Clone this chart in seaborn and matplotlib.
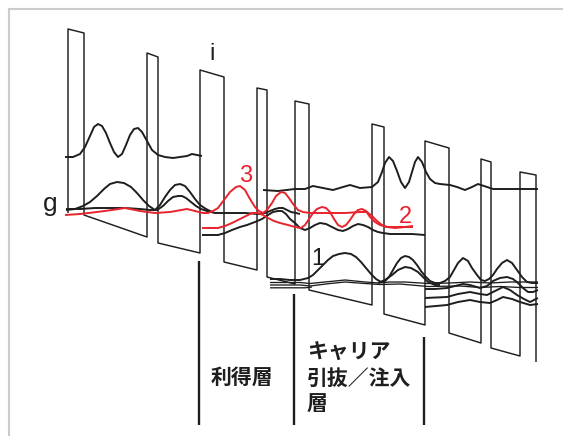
import matplotlib
matplotlib.use("Agg")
import matplotlib.pyplot as plt
import pandas as pd
import seaborn as sns
from matplotlib.lines import Line2D

# ---------------------------------------------------------------------------
# Conduction-band profile under bias (drawing units: x to the right, y downward)
# ---------------------------------------------------------------------------
barrier_left = [68, 147, 200, 257, 295, 372, 425, 481, 520]
barrier_right = [84, 158, 224, 267, 309, 384, 449, 491, 536]
barrier_top_left = [29, 53, 70, 88, 101, 124, 141, 159, 172]
barrier_top_right = [33, 57, 77, 90, 104, 127, 148, 162, 175]
barrier_bottom_left = [213, 237, 253, 270, 284, 305, 325, 343, 356]
barrier_bottom_right = [215, 243, 262, 277, 290, 314, 333, 348, 362]

# Region boundaries below the band diagram
divider_x = [199, 294, 424]
divider_top = [261, 294, 337]
divider_bottom = [425, 425, 425]

# ---------------------------------------------------------------------------
# Subband wavefunctions |psi|^2 drawn on their energy levels
# ---------------------------------------------------------------------------
# upper level i (first period)
i1_x = [65, 73, 80, 85, 90, 94, 98, 102, 106, 110, 114, 118, 122, 126, 130, 134,
        138, 142, 147, 152, 158, 165, 173, 180, 187, 192, 197, 202]
i1_y = [157, 157, 154, 147, 136, 127, 124, 126, 133, 143, 152, 157, 154, 145, 135, 129,
        128, 132, 141, 150, 155, 157, 158, 157, 156, 154, 155, 156]

# upper level i (second period)
i2_x = [263, 278, 295, 305, 313, 323, 333, 343, 350, 360, 372, 378, 382, 385, 389, 393,
        397, 401, 405, 409, 412, 415, 418, 422, 426, 430, 435, 440, 450, 457, 465, 472,
        478, 487, 493, 513, 538]
i2_y = [190, 191, 189, 189, 186, 188, 190, 187, 185, 188, 187, 182, 172, 163, 157, 161,
        171, 182, 188, 182, 172, 162, 157, 162, 172, 179, 183, 184, 185, 187, 190, 187,
        184, 187, 189, 189, 189]

# double-hump state of the gain region
a_x = [66, 75, 83, 90, 97, 104, 110, 117, 124, 131, 137, 143, 149, 155, 160, 165, 170,
       175, 180, 185, 190, 195, 200, 206, 212]
a_y = [210, 209, 206, 202, 196, 189, 184, 182, 183, 187, 193, 200, 206, 210, 205, 197, 190,
       185, 184, 186, 192, 199, 205, 209, 212]

# injector state g (black)
b_x = [66, 80, 95, 110, 125, 140, 150, 157, 163, 168, 173, 178, 182, 186, 191, 196, 201,
       207, 215, 230, 245, 258, 265, 270, 275, 279, 283, 287, 291, 296, 300]
b_y = [209, 209, 208, 208, 208, 209, 210, 210, 206, 201, 197, 196, 196, 198, 202, 206, 209,
       211, 213, 213, 213, 214, 213, 211, 209, 208, 208, 210, 212, 213, 214]

# lower black state of the extraction region
k3_x = [202, 210, 218, 225, 232, 240, 247, 255, 262, 268, 273, 278, 282, 286, 290, 295,
        300, 305, 310, 315, 320, 326, 332, 338, 343, 348, 353, 358, 363, 368, 373, 378,
        383, 390, 400, 412, 425]
k3_y = [235, 235, 235, 233, 230, 227, 225, 222, 219, 215, 212, 211, 211, 214, 219, 223,
        228, 230, 228, 225, 223, 224, 227, 230, 231, 229, 226, 224, 225, 227, 230, 232,
        233, 234, 234, 234, 235]

# level 1
k4_x = [270, 280, 290, 300, 308, 313, 318, 323, 328, 333, 339, 345, 351, 356, 361, 366,
        371, 376, 381, 385, 389, 393, 397, 401, 405, 409, 413, 417, 421, 425, 430, 435,
        440, 445, 450, 454, 458, 463, 468, 472, 477, 481, 485, 489, 493, 497, 502, 507,
        512, 517, 522, 527, 532, 538]
k4_y = [279, 279, 280, 280, 278, 275, 270, 265, 260, 256, 254, 253, 254, 257, 262, 268,
        274, 279, 282, 281, 277, 270, 263, 258, 256, 257, 260, 265, 271, 276, 281, 283,
        283, 281, 277, 270, 263, 258, 261, 268, 275, 280, 281, 279, 275, 269, 263, 260,
        263, 270, 277, 282, 283, 283]

k5_x = [378, 385, 392, 398, 405, 411, 418, 423, 428, 435, 440]
k5_y = [283, 280, 275, 270, 267, 268, 272, 277, 282, 285, 285]

# injector levels of the second period
f1_x = [270, 300, 310, 325, 345, 365, 378, 390, 405, 428, 450, 470, 490, 510, 538]
f1_y = [282.5, 282.5, 283.5, 282, 280, 282, 283, 282, 282, 283.5, 283, 282, 283, 282, 282]
f2_x = [270, 300, 310, 330, 345, 365, 380, 400, 428, 460, 480, 500, 520, 538]
f2_y = [285, 285, 286, 283.5, 282, 283.5, 284.5, 284, 286.5, 286, 287.5, 286.5, 287.5, 287.5]
f3_x = [270, 290, 305, 312]
f3_y = [287.8, 287.8, 287.8, 287]

l1_x = [425, 435, 447, 455, 463, 470, 480, 487, 493, 500, 507, 513, 518, 523, 528, 533, 538]
l1_y = [289, 289, 288, 286, 284, 285, 288, 286, 281, 278, 277, 279, 283, 288, 292, 292, 290]
l2_x = [425, 447, 458, 470, 480, 487, 495, 503, 510, 517, 524, 530, 538]
l2_y = [298, 297, 294, 292, 294, 295, 291, 287, 290, 295, 299, 302, 298]
l3_x = [425, 447, 458, 470, 480, 490, 497, 503, 512, 520, 530, 538]
l3_y = [307, 305, 302, 300, 302, 303, 300, 297, 299, 302, 305, 304]

# red states 3 and 2
r3_x = [65, 80, 97, 112, 125, 140, 155, 170, 187, 203, 208, 213, 218, 224, 230, 236,
        240, 245, 250, 255, 259, 263, 267, 272, 276, 281, 285, 289, 293, 298, 303, 310,
        320, 330, 345, 360, 367, 372, 377, 382, 387, 395, 405, 413]
r3_y = [215, 214, 212, 210, 208, 211, 213, 212, 209, 213, 213, 211, 208, 200, 192, 187,
        186, 190, 199, 207, 211, 213, 210, 203, 196, 192, 193, 198, 204, 210, 212, 213,
        213, 213, 213, 212, 212, 216, 221, 225, 227, 227, 227, 226]
r2_x = [202, 210, 218, 225, 232, 240, 246, 252, 258, 263, 268, 274, 280, 288, 295, 301,
        305, 309, 313, 317, 322, 326, 330, 334, 338, 342, 346, 350, 354, 358, 362, 366,
        370, 375, 380, 387, 395, 405, 413]
r2_y = [228, 228, 228, 226, 223, 219, 216, 213, 213, 215, 218, 221, 223, 225, 227, 228,
        225, 219, 213, 209, 207, 208, 212, 219, 225, 227, 225, 220, 214, 210, 209, 211,
        217, 222, 225, 227, 228, 227, 227]

black_states = {
    "i1": (i1_x, i1_y), "i2": (i2_x, i2_y), "a": (a_x, a_y), "b": (b_x, b_y),
    "k3": (k3_x, k3_y), "k4": (k4_x, k4_y), "k5": (k5_x, k5_y),
    "l1": (l1_x, l1_y), "l2": (l2_x, l2_y), "l3": (l3_x, l3_y),
}
thin_states = {"f1": (f1_x, f1_y), "f2": (f2_x, f2_y), "f3": (f3_x, f3_y)}
red_states = {"r3": (r3_x, r3_y), "r2": (r2_x, r2_y)}

# Labels
level_labels = ["i", "g", "3", "2", "1"]
level_label_x = [212, 50, 246, 405, 318]
level_label_y = [60, 211, 182, 223, 265]
level_label_color = ["#1e1e1e", "#1e1e1e", "#e8232b", "#e8232b", "#1e1e1e"]
level_label_size = [17, 19, 17, 17, 17]

region_lines = ["利得層", "キャリア", "引抜／注入", "層"]
region_x = [211, 307, 307, 307]
region_y = [377, 352, 378, 403]


def long_form(states):
    rows = []
    for name, (xs, ys) in states.items():
        for order, (x, y) in enumerate(zip(xs, ys)):
            rows.append({"state": name, "order": order, "x": x, "y": y})
    return pd.DataFrame(rows)


# Band-edge polyline built from the barrier table
band_x, band_y = [], []
for k in range(len(barrier_left)):
    band_x += [barrier_left[k], barrier_left[k], barrier_right[k], barrier_right[k]]
    band_y += [barrier_bottom_left[k], barrier_top_left[k],
               barrier_top_right[k], barrier_bottom_right[k]]
band = pd.DataFrame({"x": band_x, "y": band_y, "state": "band"})

dividers = pd.DataFrame({
    "x": [v for x in divider_x for v in (x, x)],
    "y": [v for t, b in zip(divider_top, divider_bottom) for v in (t, b)],
    "state": [f"d{k}" for k in range(len(divider_x)) for _ in (0, 1)],
})

sns.set_theme(style="white")
plt.rcParams["font.family"] = ["Liberation Sans", "DejaVu Sans"]

fig = plt.figure(figsize=(5.63, 4.36), dpi=100)
ax = fig.add_axes([0, 0, 1, 1])
ax.set_xlim(0, 563)
ax.set_ylim(436, 0)
ax.axis("off")

line_kw = dict(estimator=None, sort=False, legend=False, ax=ax,
               solid_joinstyle="round", solid_capstyle="butt")

sns.lineplot(data=band, x="x", y="y", units="state", color="#1e1e1e", lw=1.05, **line_kw)
sns.lineplot(data=dividers, x="x", y="y", units="state", color="#1e1e1e", lw=1.7, **line_kw)
sns.lineplot(data=long_form(thin_states), x="x", y="y", units="state",
             color="#1e1e1e", lw=0.95, **line_kw)
sns.lineplot(data=long_form(black_states), x="x", y="y", units="state",
             color="#1e1e1e", lw=1.4, **line_kw)
sns.lineplot(data=long_form(red_states), x="x", y="y", units="state",
             color="#e8232b", lw=1.4, **line_kw)

for t, x, y, c, s in zip(level_labels, level_label_x, level_label_y,
                         level_label_color, level_label_size):
    ax.text(x, y, t, color=c, fontsize=s, ha="center", va="baseline",
            family=["Liberation Sans", "DejaVu Sans"])

for t, x, y in zip(region_lines, region_x, region_y):
    ax.text(x, y, t, color="#1e1e1e", fontsize=15, fontweight="bold", ha="left",
            va="center", family=["Noto Sans CJK JP", "DejaVu Sans"])

# light frame along the top and left edges
frame_color = "#cccccc"
fig.add_artist(Line2D([8.5 / 563, 8.5 / 563], [0, 1 - 9.5 / 436],
                      transform=fig.transFigure, color=frame_color, lw=1.5))
fig.add_artist(Line2D([8.5 / 563, 1], [1 - 9.5 / 436, 1 - 9.5 / 436],
                      transform=fig.transFigure, color=frame_color, lw=1.5))

fig.savefig("out.png", dpi=100, facecolor="white")
